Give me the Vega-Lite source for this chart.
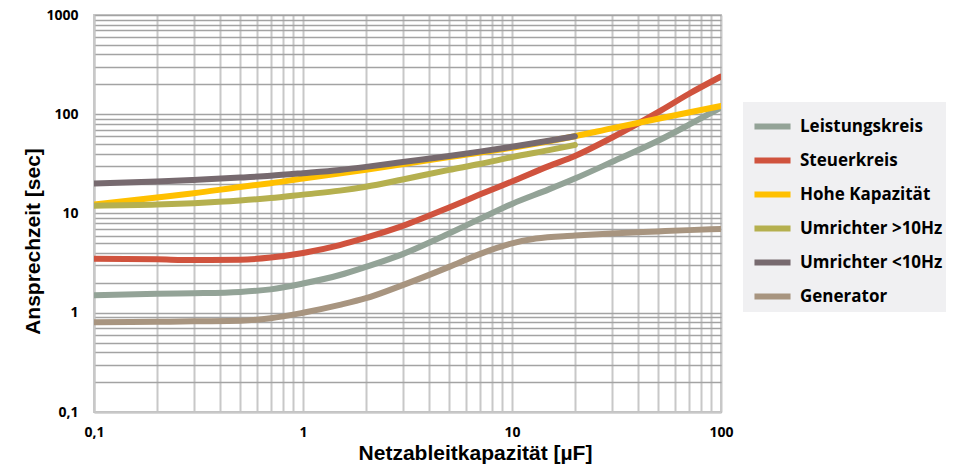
{
  "$schema": "https://vega.github.io/schema/vega-lite/v6.json",
  "width": 627,
  "height": 397,
  "autosize": {"type": "none"},
  "padding": {"left": 94, "top": 15, "right": 247, "bottom": 56},
  "background": "white",
  "config": {
    "font": "Open Sans",
    "view": {"stroke": "#c8c8c8", "strokeWidth": 2},
    "axis": {"labelFont": "Open Sans", "titleFont": "Liberation Sans"}
  },
  "data": {
    "values": [
      {"x": 0.1, "y": 1.5, "s": "Leistungskreis"},
      {"x": 0.2, "y": 1.55, "s": "Leistungskreis"},
      {"x": 0.3, "y": 1.57, "s": "Leistungskreis"},
      {"x": 0.5, "y": 1.62, "s": "Leistungskreis"},
      {"x": 0.7, "y": 1.72, "s": "Leistungskreis"},
      {"x": 1, "y": 1.97, "s": "Leistungskreis"},
      {"x": 1.5, "y": 2.4, "s": "Leistungskreis"},
      {"x": 2, "y": 2.9, "s": "Leistungskreis"},
      {"x": 3, "y": 3.9, "s": "Leistungskreis"},
      {"x": 5, "y": 6.3, "s": "Leistungskreis"},
      {"x": 7, "y": 8.8, "s": "Leistungskreis"},
      {"x": 10, "y": 12.5, "s": "Leistungskreis"},
      {"x": 15, "y": 17.5, "s": "Leistungskreis"},
      {"x": 20, "y": 22.5, "s": "Leistungskreis"},
      {"x": 30, "y": 33, "s": "Leistungskreis"},
      {"x": 50, "y": 54, "s": "Leistungskreis"},
      {"x": 70, "y": 78, "s": "Leistungskreis"},
      {"x": 100, "y": 117, "s": "Leistungskreis"},

      {"x": 0.1, "y": 3.5, "s": "Steuerkreis"},
      {"x": 0.2, "y": 3.45, "s": "Steuerkreis"},
      {"x": 0.3, "y": 3.4, "s": "Steuerkreis"},
      {"x": 0.5, "y": 3.42, "s": "Steuerkreis"},
      {"x": 0.7, "y": 3.6, "s": "Steuerkreis"},
      {"x": 1, "y": 4.0, "s": "Steuerkreis"},
      {"x": 1.5, "y": 4.8, "s": "Steuerkreis"},
      {"x": 2, "y": 5.7, "s": "Steuerkreis"},
      {"x": 3, "y": 7.5, "s": "Steuerkreis"},
      {"x": 5, "y": 11.5, "s": "Steuerkreis"},
      {"x": 7, "y": 15.5, "s": "Steuerkreis"},
      {"x": 10, "y": 21, "s": "Steuerkreis"},
      {"x": 15, "y": 30, "s": "Steuerkreis"},
      {"x": 20, "y": 38, "s": "Steuerkreis"},
      {"x": 30, "y": 58, "s": "Steuerkreis"},
      {"x": 50, "y": 105, "s": "Steuerkreis"},
      {"x": 70, "y": 160, "s": "Steuerkreis"},
      {"x": 100, "y": 240, "s": "Steuerkreis"},

      {"x": 0.1, "y": 12.3, "s": "Hohe Kapazität"},
      {"x": 0.2, "y": 14.5, "s": "Hohe Kapazität"},
      {"x": 0.3, "y": 16, "s": "Hohe Kapazität"},
      {"x": 0.5, "y": 18.5, "s": "Hohe Kapazität"},
      {"x": 0.7, "y": 20.2, "s": "Hohe Kapazität"},
      {"x": 1, "y": 22.5, "s": "Hohe Kapazität"},
      {"x": 2, "y": 27.5, "s": "Hohe Kapazität"},
      {"x": 5, "y": 37, "s": "Hohe Kapazität"},
      {"x": 10, "y": 46, "s": "Hohe Kapazität"},
      {"x": 20, "y": 60, "s": "Hohe Kapazität"},
      {"x": 30, "y": 72, "s": "Hohe Kapazität"},
      {"x": 50, "y": 90, "s": "Hohe Kapazität"},
      {"x": 70, "y": 104, "s": "Hohe Kapazität"},
      {"x": 100, "y": 121, "s": "Hohe Kapazität"},

      {"x": 0.1, "y": 12, "s": "Umrichter >10Hz"},
      {"x": 0.2, "y": 12.3, "s": "Umrichter >10Hz"},
      {"x": 0.3, "y": 12.7, "s": "Umrichter >10Hz"},
      {"x": 0.5, "y": 13.5, "s": "Umrichter >10Hz"},
      {"x": 0.7, "y": 14.3, "s": "Umrichter >10Hz"},
      {"x": 1, "y": 15.5, "s": "Umrichter >10Hz"},
      {"x": 1.5, "y": 17, "s": "Umrichter >10Hz"},
      {"x": 2, "y": 18.6, "s": "Umrichter >10Hz"},
      {"x": 3, "y": 22, "s": "Umrichter >10Hz"},
      {"x": 5, "y": 27.5, "s": "Umrichter >10Hz"},
      {"x": 7, "y": 31.5, "s": "Umrichter >10Hz"},
      {"x": 10, "y": 37, "s": "Umrichter >10Hz"},
      {"x": 15, "y": 43.5, "s": "Umrichter >10Hz"},
      {"x": 20, "y": 49, "s": "Umrichter >10Hz"},

      {"x": 0.1, "y": 20, "s": "Umrichter <10Hz"},
      {"x": 0.2, "y": 21, "s": "Umrichter <10Hz"},
      {"x": 0.3, "y": 21.8, "s": "Umrichter <10Hz"},
      {"x": 0.5, "y": 23, "s": "Umrichter <10Hz"},
      {"x": 0.7, "y": 24, "s": "Umrichter <10Hz"},
      {"x": 1, "y": 25.5, "s": "Umrichter <10Hz"},
      {"x": 1.5, "y": 27.5, "s": "Umrichter <10Hz"},
      {"x": 2, "y": 29.5, "s": "Umrichter <10Hz"},
      {"x": 3, "y": 33, "s": "Umrichter <10Hz"},
      {"x": 5, "y": 38, "s": "Umrichter <10Hz"},
      {"x": 7, "y": 42, "s": "Umrichter <10Hz"},
      {"x": 10, "y": 47, "s": "Umrichter <10Hz"},
      {"x": 15, "y": 54, "s": "Umrichter <10Hz"},
      {"x": 20, "y": 60, "s": "Umrichter <10Hz"},

      {"x": 0.1, "y": 0.8, "s": "Generator"},
      {"x": 0.2, "y": 0.81, "s": "Generator"},
      {"x": 0.3, "y": 0.82, "s": "Generator"},
      {"x": 0.5, "y": 0.83, "s": "Generator"},
      {"x": 0.7, "y": 0.88, "s": "Generator"},
      {"x": 1, "y": 1.0, "s": "Generator"},
      {"x": 1.5, "y": 1.2, "s": "Generator"},
      {"x": 2, "y": 1.4, "s": "Generator"},
      {"x": 3, "y": 1.9, "s": "Generator"},
      {"x": 5, "y": 2.9, "s": "Generator"},
      {"x": 7, "y": 3.9, "s": "Generator"},
      {"x": 10, "y": 5.0, "s": "Generator"},
      {"x": 13, "y": 5.6, "s": "Generator"},
      {"x": 20, "y": 6.0, "s": "Generator"},
      {"x": 30, "y": 6.3, "s": "Generator"},
      {"x": 50, "y": 6.6, "s": "Generator"},
      {"x": 70, "y": 6.8, "s": "Generator"},
      {"x": 100, "y": 7.0, "s": "Generator"}
    ]
  },
  "mark": {"type": "line", "strokeWidth": 6, "strokeCap": "round", "strokeJoin": "round", "interpolate": "monotone", "clip": true},
  "encoding": {
    "x": {
      "field": "x", "type": "quantitative",
      "scale": {"type": "log", "domain": [0.1, 100], "nice": false},
      "axis": {
        "title": "Netzableitkapazität [µF]",
        "titleFontSize": 21, "titleFontWeight": "bold", "titleColor": "#000",
        "titleX": 381, "titleY": 41, "titleBaseline": "middle",
        "values": [0.1,0.2,0.3,0.4,0.5,0.6,0.7,0.8,0.9,1,2,3,4,5,6,7,8,9,10,20,30,40,50,60,70,80,90,100],
        "labelExpr": "datum.value==0.1?'0,1':datum.value==1?'1':datum.value==10?'10':datum.value==100?'100':''",
        "labelFontSize": 14, "labelFontWeight": "bold", "labelColor": "#000",
        "labelPadding": 13, "labelOverlap": false, "labelFlush": false,
        "ticks": false,
        "domain": true, "domainColor": "#c8c8c8", "domainWidth": 2,
        "grid": true, "gridColor": "#c8c8c8", "gridWidth": 2
      }
    },
    "y": {
      "field": "y", "type": "quantitative",
      "scale": {"type": "log", "domain": [0.1, 1000], "nice": false},
      "axis": {
        "title": "Ansprechzeit [sec]",
        "titleFontSize": 21, "titleFontWeight": "bold", "titleColor": "#000",
        "titleX": -61, "titleY": 226, "titleBaseline": "middle", "titleAngle": -90,
        "values": [0.1,0.2,0.3,0.4,0.5,0.6,0.7,0.8,0.9,1,2,3,4,5,6,7,8,9,10,20,30,40,50,60,70,80,90,100,200,300,400,500,600,700,800,900,1000],
        "labelExpr": "datum.value==0.1?'0,1':datum.value==1?'1':datum.value==10?'10':datum.value==100?'100':datum.value==1000?'1000':''",
        "labelFontSize": 14, "labelFontWeight": "bold", "labelColor": "#000",
        "labelPadding": 16, "labelOverlap": false, "labelFlush": false,
        "ticks": false,
        "domain": true, "domainColor": "#c8c8c8", "domainWidth": 2,
        "grid": true, "gridColor": "#a3a3a3", "gridWidth": 1.3
      }
    },
    "color": {
      "field": "s", "type": "nominal",
      "scale": {
        "domain": ["Leistungskreis", "Steuerkreis", "Hohe Kapazität", "Umrichter >10Hz", "Umrichter <10Hz", "Generator"],
        "range": ["#93a397", "#d0533e", "#ffc000", "#b5b04f", "#776a6f", "#a89580"]
      },
      "legend": {
        "title": null,
        "orient": "none", "legendX": 649, "legendY": 87,
        "fillColor": "#f0f0f2", "padding": 3,
        "symbolType": "stroke", "symbolStrokeWidth": 6, "symbolSize": 1300, "symbolOffset": 5,
        "labelFontSize": 17, "labelFontWeight": "bold", "labelColor": "#000", "labelFont": "Open Sans",
        "labelOffset": 6, "rowPadding": -1, "labelLimit": 300
      }
    }
  }
}
